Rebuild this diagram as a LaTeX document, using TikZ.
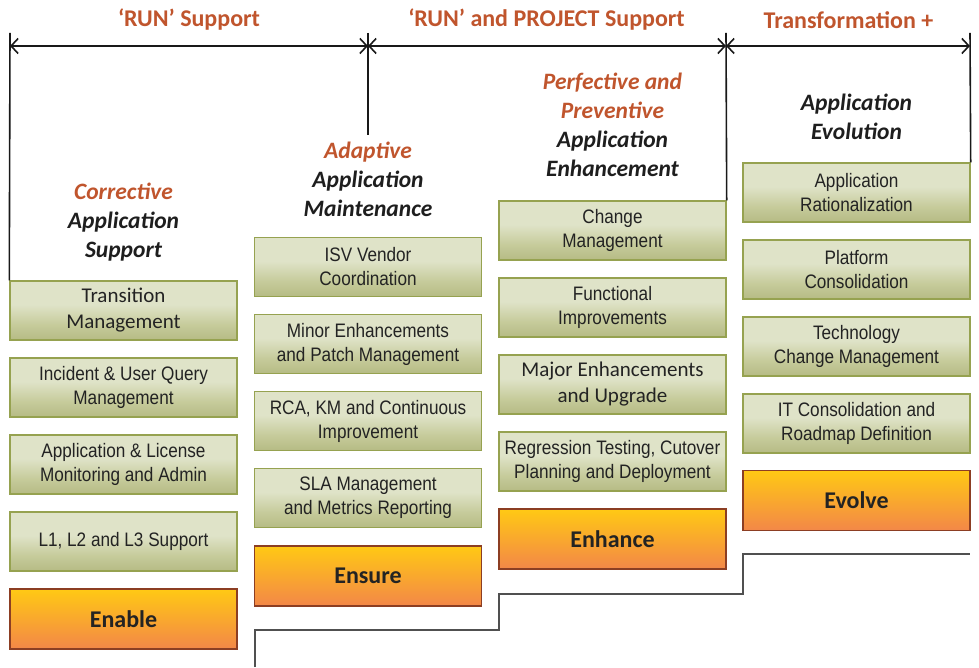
\documentclass[tikz,border=0pt]{standalone}
\usepackage{fontspec}
\setmainfont{Carlito}
\newfontfamily\boxfont[FakeStretch=0.88]{Liberation Sans}
\usetikzlibrary{arrows.meta}
\definecolor{hdorange}{RGB}{192,85,45}
\definecolor{hdblack}{RGB}{30,30,30}
\definecolor{txt}{RGB}{35,35,35}
\definecolor{glight}{RGB}{223,227,200}
\definecolor{gmid}{RGB}{198,203,155}
\definecolor{gdark}{RGB}{150,156,88}
\definecolor{gborder}{RGB}{150,162,80}
\definecolor{oyellow}{RGB}{255,201,20}
\definecolor{oorange}{RGB}{243,135,72}
\definecolor{oborder}{RGB}{140,62,35}
\definecolor{stepgray}{RGB}{80,80,80}
\pgfdeclareverticalshading{greenshade}{100bp}{color(0bp)=(gdark); color(38bp)=(gmid); color(55bp)=(glight); color(100bp)=(glight)}
\tikzset{
  gbox/.style={draw=gborder, line width=1.4pt, shade, shading=greenshade,
    minimum width=227pt, minimum height=59pt, inner sep=0pt, align=center,
    text=txt, font=\boxfont\fontsize{19.5}{24}\selectfont},
  gboxc/.style={gbox, font=\fontsize{21}{26}\selectfont},
  obox/.style={draw=oborder, line width=1.4pt, top color=oyellow, bottom color=oorange,
    minimum width=227pt, minimum height=60pt, inner sep=0pt, text=txt,
    font=\bfseries\fontsize{24}{28}\selectfont},
  headtxt/.style={align=center, text=hdblack, inner sep=0pt,
    font=\bfseries\itshape\fontsize{23.5}{29}\selectfont},
  toptxt/.style={text=hdorange, inner sep=0pt, font=\bfseries\fontsize{24}{28}\selectfont},
  dimline/.style={line width=1.6pt, black!90},
  dimarrow/.style={dimline, {Straight Barb[length=7pt,width=15pt]}-{Straight Barb[length=7pt,width=15pt]}},
  stepline/.style={line width=1.3pt, stepgray}
}
\begin{document}
\begin{tikzpicture}[x=1pt,y=1pt]
\useasboundingbox (0,0) rectangle (979,667);

% top labels
\node[toptxt] (L1) at (189,647) {‘RUN’ Support};
\node[toptxt] (L2) at (546.5,647) {‘RUN’ and PROJECT Support};
\node[toptxt] (L3) at (848.5,647) {Transformation +};

% column 1
\node[gboxc] (t1) at (123.5,356.5) {Transition\\Management};
\node[gbox] (t2) at (123.5,279.5) {Incident \& User Query\\Management};
\node[gbox] (t3) at (123.5,202.5) {Application \& License\\Monitoring and Admin};
\node[gbox] (t4) at (123.5,125.5) {L1, L2 and L3 Support};
\node[obox] (t5) at (123.5,48) {Enable};
\node[headtxt] (h1) at (123.5,445) {{\color{hdorange}Corrective}\\Application\\Support};

% column 2
\node[gbox] (m1) at (368,400) {ISV Vendor\\Coordination};
\node[gbox] (m2) at (368,323) {Minor Enhancements\\and Patch Management};
\node[gbox] (m3) at (368,246) {RCA, KM and Continuous\\Improvement};
\node[gbox] (m4) at (368,169) {SLA Management\\and Metrics Reporting};
\node[obox] (m5) at (368,91) {Ensure};
\node[headtxt] (h2) at (368,488) {{\color{hdorange}Adaptive}\\Application\\Maintenance};

% column 3
\node[gbox] (c1) at (612.5,436.5) {Change\\Management};
\node[gbox] (c2) at (612.5,359.5) {Functional\\Improvements};
\node[gboxc] (c3) at (612.5,282.5) {Major Enhancements\\and Upgrade};
\node[gbox] (c4) at (612.5,205.5) {Regression Testing, Cutover\\Planning and Deployment};
\node[obox] (c5) at (612.5,128) {Enhance};
\node[headtxt] (h3) at (612.5,542.5) {{\color{hdorange}Perfective and}\\{\color{hdorange}Preventive}\\Application\\Enhancement};

% column 4
\node[gbox] (r1) at (856.5,474.5) {Application\\Rationalization};
\node[gbox] (r2) at (856.5,397.5) {Platform\\Consolidation};
\node[gbox] (r3) at (856.5,320.5) {Technology\\Change Management};
\node[gbox] (r4) at (856.5,243.5) {IT Consolidation and\\Roadmap Definition};
\node[obox] (r5) at (856.5,166.5) {Evolve};
\node[headtxt] (h4) at (856.5,550.5) {Application\\Evolution};

% dimension lines
\coordinate (a0) at (10,621);
\coordinate (a1) at (368,621);
\coordinate (a2) at (726,621);
\coordinate (a3) at (970,621);
\coordinate (v0) at (10,634);
\coordinate (v1) at (368,634);
\coordinate (v1e) at (368,532);
\coordinate (v2) at (726,634);
\coordinate (v3) at (970,634);
\draw[dimarrow] (a0) -- (a1);
\draw[dimarrow] (a1) -- (a2);
\draw[dimarrow] (a2) -- (a3);
\draw[dimline] (v0) -- (t1.north west);
\draw[dimline] (v1) -- (v1e);
\draw[dimline] (v2) -- (c1.north east);
\draw[dimline] (v3) -- (r1.north east);

% steps
\draw[stepline] (255,0) -- (255,37) -- (499,37) -- (499,73) -- (743,73) -- (743,113) -- (970,113);
\end{tikzpicture}
\end{document}
